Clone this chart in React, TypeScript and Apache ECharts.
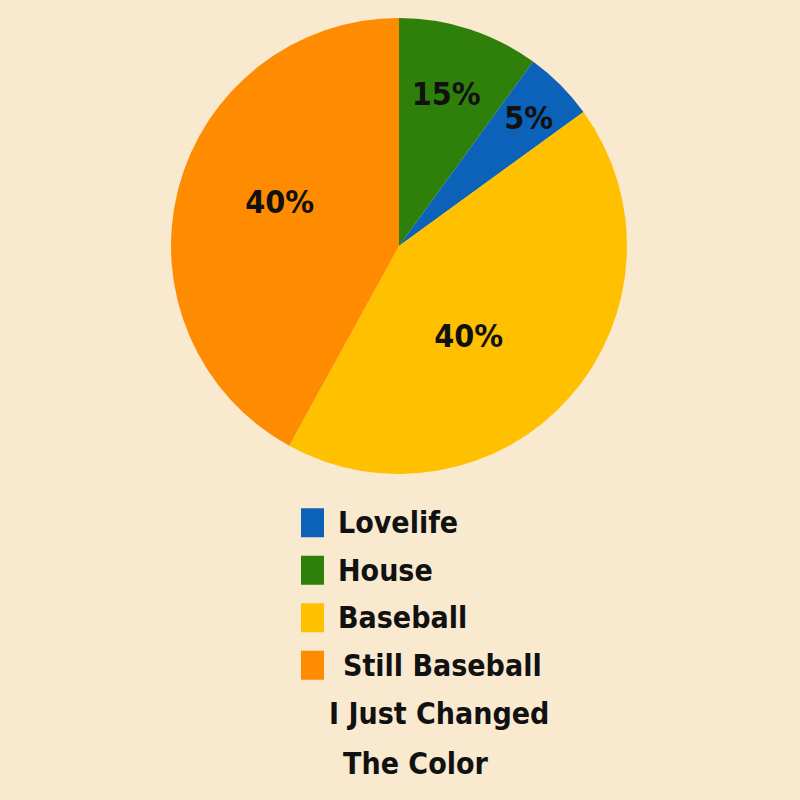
import React, { useEffect, useRef } from "react";
import * as echarts from "echarts";

// Slice order clockwise from 12 o'clock (as drawn)
const sliceNames = ["House", "Lovelife", "Baseball", "Still Baseball"];
const sliceValues = [10, 5, 43, 42];
const sliceLabels = ["15%", "5%", "40%", "40%"];
const sliceColors = ["#2E800A", "#0B62B8", "#FFC000", "#FF8B00"];

// Legend order
const legendOrder = ["Lovelife", "House", "Baseball", "Still Baseball"];
const legendExtraLines = ["I Just Changed", "The Color"];

const FONT = "'DejaVu Sans Condensed', sans-serif";
const labelShift = [
  [11, -41],
  [47, -45],
  [-18, 13],
  [-6, -15],
];

export default function App() {
  const ref = useRef<HTMLDivElement>(null);
  useEffect(() => {
    if (!ref.current) return;
    const chart = echarts.init(ref.current, null, { renderer: "svg" });
    chart.setOption({
      animation: false,
      backgroundColor: "#F8E9CF",
      color: sliceColors,
      legend: {
        orient: "vertical",
        left: 296,
        top: 494,
        itemWidth: 23,
        itemHeight: 29,
        itemGap: 0,
        icon: "rect",
        selectedMode: false,
        data: legendOrder.map((n) =>
          n === "Still Baseball"
            ? { name: n, textStyle: { padding: [0, 0, 0, 14] } }
            : { name: n }
        ),
        textStyle: {
          fontFamily: FONT,
          fontWeight: "bold",
          fontSize: 30,
          color: "#111",
          lineHeight: 47.5,
          padding: [0, 0, 0, 9],
        },
      },
      graphic: legendExtraLines.map((t, i) => ({
        type: "text",
        left: i === 0 ? 329 : 343,
        top: 716 + i * 50 - 18,
        style: {
          text: t,
          fontFamily: FONT,
          fontWeight: "bold",
          fontSize: 30,
          fill: "#111",
        },
      })),
      series: [
        {
          type: "pie",
          center: [399, 246],
          radius: [0, 228],
          startAngle: 90,
          clockwise: true,
          silent: true,
          emphasis: { disabled: true },
          data: sliceNames.map((n, i) => ({ name: n, value: sliceValues[i] })),
          label: {
            show: true,
            position: "inside",
            formatter: (p: any) => sliceLabels[p.dataIndex],
            fontFamily: FONT,
            fontWeight: "bold",
            fontSize: 32,
            color: "#111",
          },
          labelLine: { show: false },
          labelLayout: (p: any) => ({
            dx: labelShift[p.dataIndex][0],
            dy: labelShift[p.dataIndex][1],
          }),
        },
      ],
    });
    return () => chart.dispose();
  }, []);
  return (
    <div
      ref={ref}
      style={{ position: "fixed", left: 0, top: 0, width: 800, height: 800 }}
    />
  );
}
